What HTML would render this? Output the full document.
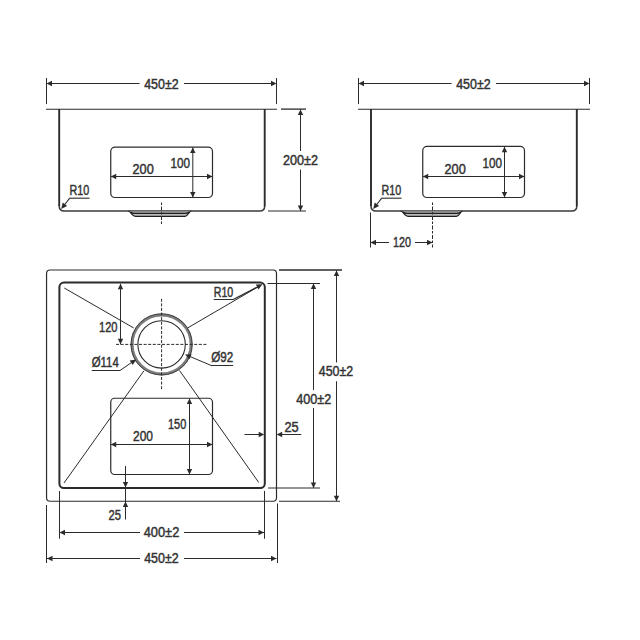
<!DOCTYPE html>
<html><head><meta charset="utf-8"><style>
html,body{margin:0;padding:0;background:#fff;width:640px;height:640px;overflow:hidden}
svg{display:block}
text{font-family:"Liberation Sans",sans-serif}
</style></head><body>
<svg width="640" height="640" viewBox="0 0 640 640">
<line x1="46.5" y1="78" x2="46.5" y2="104" stroke="#2b2b2b" stroke-width="1.0" />
<line x1="276.5" y1="78" x2="276.5" y2="104" stroke="#2b2b2b" stroke-width="1.0" />
<line x1="50.5" y1="83.5" x2="139.5" y2="83.5" stroke="#2b2b2b" stroke-width="1.0" />
<line x1="184.0" y1="83.5" x2="272.5" y2="83.5" stroke="#2b2b2b" stroke-width="1.0" />
<polygon points="46.50,83.50 52.00,80.70 52.00,86.30" fill="#2b2b2b"/>
<polygon points="276.50,83.50 271.00,86.30 271.00,80.70" fill="#2b2b2b"/>
<text x="144.2" y="88.50" font-size="13.8" textLength="34.5" lengthAdjust="spacingAndGlyphs" fill="#333" stroke="#333" stroke-width="0.45">450±2</text>
<line x1="46" y1="109.2" x2="277.0" y2="109.2" stroke="#2b2b2b" stroke-width="1.15" />
<path d="M59.2,205.9 Q59.2,210.9 64.2,210.9 H259.7 Q264.7,210.9 264.7,205.9" stroke="#3a3a3a" stroke-width="1.5" fill="none" />
<line x1="59.2" y1="109" x2="59.2" y2="206.20000000000002" stroke="#2b2b2b" stroke-width="1.9" />
<line x1="264.7" y1="109" x2="264.7" y2="206.20000000000002" stroke="#2b2b2b" stroke-width="1.9" />
<path d="M127.9,211 C130.9,211 131.9,216.4 135.4,216.4 H185.1 C188.1,216.4 189.1,211 191.1,211 Z" stroke="#2b2b2b" stroke-width="0" fill="#bdbdbd" />
<path d="M128.9,211 H190.1 L189.1,213.5 H131.4 Z" stroke="#2b2b2b" stroke-width="0" fill="#8a8a8a" />
<path d="M127.9,211 C130.9,211 131.9,216.4 135.4,216.4 H185.1 C188.1,216.4 189.1,211 191.1,211" stroke="#1e1e1e" stroke-width="1.2" fill="none" />
<path d="M130.4,212 C131.9,213.5 132.9,213.5 134.9,213.5 H185.1 C187.1,213.5 188.1,213 189.6,212" stroke="#1e1e1e" stroke-width="1.1" fill="none" />
<line x1="281" y1="109.1" x2="306" y2="109.1" stroke="#2b2b2b" stroke-width="1.3" />
<line x1="268" y1="211" x2="306" y2="211" stroke="#2b2b2b" stroke-width="1.0" />
<line x1="300.5" y1="109.5" x2="300.5" y2="151" stroke="#2b2b2b" stroke-width="1.0" />
<line x1="300.5" y1="169.5" x2="300.5" y2="211" stroke="#2b2b2b" stroke-width="1.0" />
<polygon points="300.50,109.50 303.20,115.00 297.80,115.00" fill="#2b2b2b"/>
<polygon points="300.50,211.00 297.80,205.50 303.20,205.50" fill="#2b2b2b"/>
<text x="283" y="165.40" font-size="13.8" textLength="35" lengthAdjust="spacingAndGlyphs" fill="#333" stroke="#333" stroke-width="0.45">200±2</text>
<rect x="110.75" y="147.2" width="101.75" height="50.30000000000001" rx="4.3" fill="none" stroke="#2b2b2b" stroke-width="1.2"/>
<line x1="110.75" y1="176.5" x2="212.5" y2="176.5" stroke="#2b2b2b" stroke-width="1.0" />
<polygon points="110.75,176.50 116.25,173.80 116.25,179.20" fill="#2b2b2b"/>
<polygon points="212.50,176.50 207.00,179.20 207.00,173.80" fill="#2b2b2b"/>
<text x="132.5" y="173.65" font-size="13.8" textLength="21.25" lengthAdjust="spacingAndGlyphs" fill="#333" stroke="#333" stroke-width="0.45">200</text>
<line x1="192.8" y1="147.45" x2="192.8" y2="197.5" stroke="#2b2b2b" stroke-width="1.0" />
<polygon points="192.80,147.45 195.50,152.95 190.10,152.95" fill="#2b2b2b"/>
<polygon points="192.80,197.50 190.10,192.00 195.50,192.00" fill="#2b2b2b"/>
<text x="170.5" y="167.90" font-size="13.8" textLength="19.5" lengthAdjust="spacingAndGlyphs" fill="#333" stroke="#333" stroke-width="0.45">100</text>
<text x="69.5" y="194.90" font-size="13.8" textLength="19.75" lengthAdjust="spacingAndGlyphs" fill="#333" stroke="#333" stroke-width="0.45">R10</text>
<line x1="69.5" y1="198.2" x2="89.5" y2="198.2" stroke="#2b2b2b" stroke-width="1.1" />
<line x1="69.7" y1="198.2" x2="64" y2="205.5" stroke="#2b2b2b" stroke-width="1.1" />
<polygon points="61.20,208.90 62.74,202.46 67.12,205.94" fill="#2b2b2b"/>
<line x1="161.5" y1="202.5" x2="161.5" y2="225" stroke="#2b2b2b" stroke-width="1.0" stroke-dasharray="2.5,1.5,4,1.5"/>
<line x1="358.5" y1="78" x2="358.5" y2="104" stroke="#2b2b2b" stroke-width="1.0" />
<line x1="589.5" y1="78" x2="589.5" y2="104" stroke="#2b2b2b" stroke-width="1.0" />
<line x1="362.5" y1="83.5" x2="451.5" y2="83.5" stroke="#2b2b2b" stroke-width="1.0" />
<line x1="496.0" y1="83.5" x2="585.5" y2="83.5" stroke="#2b2b2b" stroke-width="1.0" />
<polygon points="358.50,83.50 364.00,80.70 364.00,86.30" fill="#2b2b2b"/>
<polygon points="589.50,83.50 584.00,86.30 584.00,80.70" fill="#2b2b2b"/>
<text x="456.2" y="88.50" font-size="13.8" textLength="34.5" lengthAdjust="spacingAndGlyphs" fill="#333" stroke="#333" stroke-width="0.45">450±2</text>
<line x1="358" y1="109.2" x2="590.0" y2="109.2" stroke="#2b2b2b" stroke-width="1.15" />
<path d="M371.0,205.9 Q371.0,210.9 376.0,210.9 H571.8 Q576.8,210.9 576.8,205.9" stroke="#3a3a3a" stroke-width="1.5" fill="none" />
<line x1="371.0" y1="109" x2="371.0" y2="206.20000000000002" stroke="#2b2b2b" stroke-width="1.9" />
<line x1="576.8" y1="109" x2="576.8" y2="206.20000000000002" stroke="#2b2b2b" stroke-width="1.9" />
<path d="M400.5,211 C403.5,211 404.5,216.4 408.0,216.4 H456.5 C459.5,216.4 460.5,211 462.5,211 Z" stroke="#2b2b2b" stroke-width="0" fill="#bdbdbd" />
<path d="M401.5,211 H461.5 L460.5,213.5 H404.0 Z" stroke="#2b2b2b" stroke-width="0" fill="#8a8a8a" />
<path d="M400.5,211 C403.5,211 404.5,216.4 408.0,216.4 H456.5 C459.5,216.4 460.5,211 462.5,211" stroke="#1e1e1e" stroke-width="1.2" fill="none" />
<path d="M403.0,212 C404.5,213.5 405.5,213.5 407.5,213.5 H456.5 C458.5,213.5 459.5,213 461.0,212" stroke="#1e1e1e" stroke-width="1.1" fill="none" />
<rect x="422.75" y="146.4" width="101.75" height="51.099999999999994" rx="4.3" fill="none" stroke="#2b2b2b" stroke-width="1.2"/>
<line x1="422.75" y1="176.5" x2="524.5" y2="176.5" stroke="#2b2b2b" stroke-width="1.0" />
<polygon points="422.75,176.50 428.25,173.80 428.25,179.20" fill="#2b2b2b"/>
<polygon points="524.50,176.50 519.00,179.20 519.00,173.80" fill="#2b2b2b"/>
<text x="444.5" y="173.65" font-size="13.8" textLength="21.25" lengthAdjust="spacingAndGlyphs" fill="#333" stroke="#333" stroke-width="0.45">200</text>
<line x1="504.5" y1="146.65" x2="504.5" y2="197.5" stroke="#2b2b2b" stroke-width="1.0" />
<polygon points="504.50,146.65 507.20,152.15 501.80,152.15" fill="#2b2b2b"/>
<polygon points="504.50,197.50 501.80,192.00 507.20,192.00" fill="#2b2b2b"/>
<text x="482.5" y="167.90" font-size="13.8" textLength="19.5" lengthAdjust="spacingAndGlyphs" fill="#333" stroke="#333" stroke-width="0.45">100</text>
<text x="381.5" y="194.90" font-size="13.8" textLength="19.75" lengthAdjust="spacingAndGlyphs" fill="#333" stroke="#333" stroke-width="0.45">R10</text>
<line x1="381.5" y1="198.2" x2="401.5" y2="198.2" stroke="#2b2b2b" stroke-width="1.1" />
<line x1="381.7" y1="198.2" x2="376" y2="205.5" stroke="#2b2b2b" stroke-width="1.1" />
<polygon points="373.20,208.90 374.74,202.46 379.12,205.94" fill="#2b2b2b"/>
<line x1="432.5" y1="202.5" x2="432.5" y2="247.5" stroke="#2b2b2b" stroke-width="1.0" stroke-dasharray="2.5,1.5,4,1.5"/>
<line x1="370.5" y1="212.5" x2="370.5" y2="247.5" stroke="#2b2b2b" stroke-width="1.0" />
<line x1="370.5" y1="242.5" x2="389" y2="242.5" stroke="#2b2b2b" stroke-width="1.0" />
<line x1="415" y1="242.5" x2="432.5" y2="242.5" stroke="#2b2b2b" stroke-width="1.0" />
<polygon points="370.50,242.50 376.00,239.80 376.00,245.20" fill="#2b2b2b"/>
<polygon points="432.50,242.50 427.00,245.20 427.00,239.80" fill="#2b2b2b"/>
<text x="393" y="246.90" font-size="13.8" textLength="18" lengthAdjust="spacingAndGlyphs" fill="#333" stroke="#333" stroke-width="0.45">120</text>
<rect x="46.55" y="270" width="229.95" height="231.25" rx="3.5" fill="none" stroke="#2b2b2b" stroke-width="1.2"/>
<rect x="59.4" y="282.6" width="205.4" height="205.5" rx="4.5" fill="none" stroke="#2b2b2b" stroke-width="2"/>
<circle cx="161.6" cy="344.4" r="29.5" fill="none" stroke="#7c7c7c" stroke-width="3"/>
<circle cx="161.6" cy="344.4" r="30.6" fill="none" stroke="#3a3a3a" stroke-width="0.9"/>
<circle cx="161.6" cy="344.4" r="23.7" fill="none" stroke="#2b2b2b" stroke-width="1.1"/>
<line x1="161.6" y1="298.75" x2="161.6" y2="390" stroke="#2b2b2b" stroke-width="1.0" stroke-dasharray="3,1.6"/>
<line x1="116" y1="344.4" x2="207.5" y2="344.4" stroke="#2b2b2b" stroke-width="1.0" stroke-dasharray="3,1.6"/>
<line x1="64.25" y1="288" x2="133.75" y2="328" stroke="#2b2b2b" stroke-width="1.0" />
<line x1="261.25" y1="285" x2="187.5" y2="328" stroke="#2b2b2b" stroke-width="1.0" />
<line x1="64" y1="483" x2="143.75" y2="371" stroke="#2b2b2b" stroke-width="1.0" />
<line x1="258.75" y1="482.5" x2="179.5" y2="370.5" stroke="#2b2b2b" stroke-width="1.0" />
<rect x="110.75" y="398.25" width="101.75" height="76.25" rx="4" fill="none" stroke="#2b2b2b" stroke-width="1.2"/>
<line x1="110.75" y1="444.5" x2="212.5" y2="444.5" stroke="#2b2b2b" stroke-width="1.0" />
<polygon points="110.75,444.50 116.25,441.80 116.25,447.20" fill="#2b2b2b"/>
<polygon points="212.50,444.50 207.00,447.20 207.00,441.80" fill="#2b2b2b"/>
<text x="133" y="441.15" font-size="13.8" textLength="20" lengthAdjust="spacingAndGlyphs" fill="#333" stroke="#333" stroke-width="0.45">200</text>
<line x1="189.5" y1="398.5" x2="189.5" y2="474.5" stroke="#2b2b2b" stroke-width="1.0" />
<polygon points="189.50,398.50 192.20,404.00 186.80,404.00" fill="#2b2b2b"/>
<polygon points="189.50,474.50 186.80,469.00 192.20,469.00" fill="#2b2b2b"/>
<text x="168" y="428.65" font-size="13.8" textLength="18.25" lengthAdjust="spacingAndGlyphs" fill="#333" stroke="#333" stroke-width="0.45">150</text>
<line x1="120.5" y1="283.75" x2="120.5" y2="344.3" stroke="#2b2b2b" stroke-width="1.0" />
<polygon points="120.50,283.75 123.20,289.25 117.80,289.25" fill="#2b2b2b"/>
<polygon points="120.50,344.30 117.80,338.80 123.20,338.80" fill="#2b2b2b"/>
<text x="99" y="332.40" font-size="13.8" textLength="18.5" lengthAdjust="spacingAndGlyphs" fill="#333" stroke="#333" stroke-width="0.45">120</text>
<text x="91.75" y="367.40" font-size="13.8" textLength="27.0" lengthAdjust="spacingAndGlyphs" fill="#333" stroke="#333" stroke-width="0.45">Ø114</text>
<line x1="91.75" y1="370.5" x2="120" y2="370.5" stroke="#2b2b2b" stroke-width="1.0" />
<line x1="120" y1="370.5" x2="133" y2="361.5" stroke="#2b2b2b" stroke-width="1.0" />
<polygon points="136.25,359.50 132.73,365.11 129.69,360.40" fill="#2b2b2b"/>
<text x="211.25" y="361.90" font-size="13.8" textLength="22.0" lengthAdjust="spacingAndGlyphs" fill="#333" stroke="#333" stroke-width="0.45">Ø92</text>
<line x1="211" y1="365.5" x2="233.25" y2="365.5" stroke="#2b2b2b" stroke-width="1.0" />
<line x1="211.25" y1="365.5" x2="188" y2="355.7" stroke="#2b2b2b" stroke-width="1.0" />
<polygon points="185.00,354.50 191.61,354.13 189.53,359.33" fill="#2b2b2b"/>
<text x="213.75" y="297.40" font-size="13.8" textLength="19.5" lengthAdjust="spacingAndGlyphs" fill="#333" stroke="#333" stroke-width="0.45">R10</text>
<line x1="213.75" y1="299.5" x2="233.25" y2="299.5" stroke="#2b2b2b" stroke-width="1.0" />
<line x1="233.25" y1="299.5" x2="258.5" y2="286.5" stroke="#2b2b2b" stroke-width="1.4" />
<polygon points="262.50,284.25 258.47,289.51 255.89,284.54" fill="#2b2b2b"/>
<line x1="279" y1="270" x2="342" y2="270" stroke="#2b2b2b" stroke-width="1.3" />
<line x1="267.5" y1="283.5" x2="320" y2="283.5" stroke="#2b2b2b" stroke-width="1.0" />
<line x1="268" y1="488" x2="320" y2="488" stroke="#2b2b2b" stroke-width="1.0" />
<line x1="279" y1="501.25" x2="340" y2="501.25" stroke="#2b2b2b" stroke-width="1.0" />
<line x1="313.5" y1="283.5" x2="313.5" y2="390" stroke="#2b2b2b" stroke-width="1.0" />
<line x1="313.5" y1="408" x2="313.5" y2="488" stroke="#2b2b2b" stroke-width="1.0" />
<polygon points="313.50,283.50 316.20,289.00 310.80,289.00" fill="#2b2b2b"/>
<polygon points="313.50,488.00 310.80,482.50 316.20,482.50" fill="#2b2b2b"/>
<text x="296.25" y="403.65" font-size="13.8" textLength="35.0" lengthAdjust="spacingAndGlyphs" fill="#333" stroke="#333" stroke-width="0.45">400±2</text>
<line x1="336.5" y1="270.5" x2="336.5" y2="362.5" stroke="#2b2b2b" stroke-width="1.0" />
<line x1="336.5" y1="381.25" x2="336.5" y2="501.25" stroke="#2b2b2b" stroke-width="1.0" />
<polygon points="336.50,270.50 339.20,276.00 333.80,276.00" fill="#2b2b2b"/>
<polygon points="336.50,501.25 333.80,495.75 339.20,495.75" fill="#2b2b2b"/>
<text x="318.75" y="376.15" font-size="13.8" textLength="34.35000000000002" lengthAdjust="spacingAndGlyphs" fill="#333" stroke="#333" stroke-width="0.45">450±2</text>
<line x1="244.5" y1="434.5" x2="259" y2="434.5" stroke="#2b2b2b" stroke-width="1.0" />
<polygon points="264.20,434.50 258.70,437.20 258.70,431.80" fill="#2b2b2b"/>
<line x1="281.5" y1="434.5" x2="301.25" y2="434.5" stroke="#2b2b2b" stroke-width="1.0" />
<polygon points="276.70,434.50 282.20,431.80 282.20,437.20" fill="#2b2b2b"/>
<text x="284.5" y="431.65" font-size="13.8" textLength="14.25" lengthAdjust="spacingAndGlyphs" fill="#333" stroke="#333" stroke-width="0.45">25</text>
<line x1="125.5" y1="466" x2="125.5" y2="519.5" stroke="#2b2b2b" stroke-width="1.0" />
<polygon points="125.50,487.50 122.80,482.00 128.20,482.00" fill="#2b2b2b"/>
<polygon points="125.50,501.50 128.20,507.00 122.80,507.00" fill="#2b2b2b"/>
<text x="108.5" y="520.20" font-size="13.8" textLength="12.5" lengthAdjust="spacingAndGlyphs" fill="#333" stroke="#333" stroke-width="0.45">25</text>
<line x1="59.5" y1="491" x2="59.5" y2="538.75" stroke="#2b2b2b" stroke-width="1.0" />
<line x1="264.5" y1="491" x2="264.5" y2="538.75" stroke="#2b2b2b" stroke-width="1.0" />
<line x1="46.5" y1="505" x2="46.5" y2="563" stroke="#2b2b2b" stroke-width="1.0" />
<line x1="277.5" y1="503.5" x2="277.5" y2="563" stroke="#2b2b2b" stroke-width="1.0" />
<line x1="59.5" y1="532.5" x2="140" y2="532.5" stroke="#2b2b2b" stroke-width="1.0" />
<line x1="184" y1="532.5" x2="264" y2="532.5" stroke="#2b2b2b" stroke-width="1.0" />
<polygon points="59.50,532.50 65.00,529.80 65.00,535.20" fill="#2b2b2b"/>
<polygon points="264.00,532.50 258.50,535.20 258.50,529.80" fill="#2b2b2b"/>
<text x="143.75" y="537.40" font-size="13.8" textLength="35.5" lengthAdjust="spacingAndGlyphs" fill="#333" stroke="#333" stroke-width="0.45">400±2</text>
<line x1="47" y1="558.5" x2="140" y2="558.5" stroke="#2b2b2b" stroke-width="1.0" />
<line x1="184" y1="558.5" x2="276.5" y2="558.5" stroke="#2b2b2b" stroke-width="1.0" />
<polygon points="47.00,558.50 52.50,555.80 52.50,561.20" fill="#2b2b2b"/>
<polygon points="276.50,558.50 271.00,561.20 271.00,555.80" fill="#2b2b2b"/>
<text x="144.2" y="562.90" font-size="13.8" textLength="34.5" lengthAdjust="spacingAndGlyphs" fill="#333" stroke="#333" stroke-width="0.45">450±2</text>
</svg>
</body></html>
